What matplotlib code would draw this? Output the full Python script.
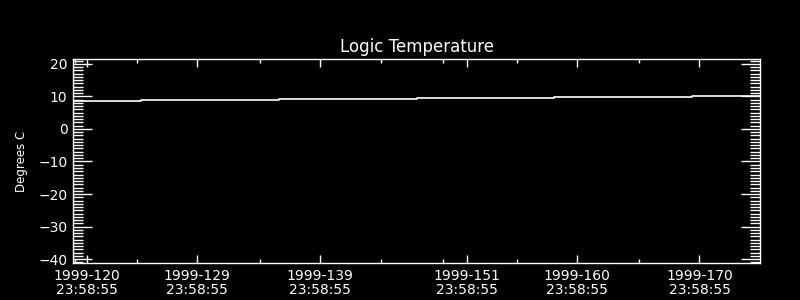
import matplotlib
matplotlib.use('Agg')
import matplotlib.pyplot as plt

# day-of-year 1999 where each level starts, and the level (deg C)
step_days = [118.86, 124.4, 135.7, 146.9, 158.1, 169.4, 174.94]
temps = [8.6, 8.85, 9.15, 9.45, 9.75, 10.05, 10.05]

major_days = [120, 129, 139, 151, 160, 170]
major_labels = ['1999-%d\n23:58:55' % d for d in major_days]
minor_days = [119.0, 124.1, 134.1, 144.0, 149.1, 155.1, 165.1]

fg = 'white'
fig = plt.figure(figsize=(8, 3), dpi=100, facecolor='black')
ax = fig.add_axes([0.09125, 0.1233, 0.85875, 0.68], facecolor='black')

ax.plot(step_days, temps, drawstyle='steps-post', color=fg, linewidth=1.2)

ax.set_xlim(118.86, 174.94)
ax.set_ylim(-41.2, 21.5)

ax.set_xticks(major_days)
ax.set_xticklabels(major_labels)
ax.set_xticks(minor_days, minor=True)
ax.set_yticks([-40, -30, -20, -10, 0, 10, 20])
ax.set_yticks(range(-41, 22), minor=True)

ax.tick_params(axis='x', which='major', direction='in', length=6, width=1,
               top=True, bottom=True, colors=fg, labelsize=10, pad=4)
ax.tick_params(axis='x', which='minor', direction='in', length=3, width=1,
               top=True, bottom=True, colors=fg)
ax.tick_params(axis='y', which='major', direction='in', length=14, width=1,
               left=True, right=True, colors=fg, labelsize=10, pad=4)
ax.tick_params(axis='y', which='minor', direction='in', length=7, width=1,
               left=True, right=True, colors=fg)
for lbl in ax.get_xticklabels():
    lbl.set_linespacing(1.05)

for s in ax.spines.values():
    s.set_color(fg)
    s.set_linewidth(1)

ax.set_title('Logic Temperature', color=fg, fontsize=12, pad=5)
ax.set_ylabel('Degrees C', color=fg, fontsize=8.5, labelpad=7)

fig.savefig('out.png', dpi=100, facecolor='black')
